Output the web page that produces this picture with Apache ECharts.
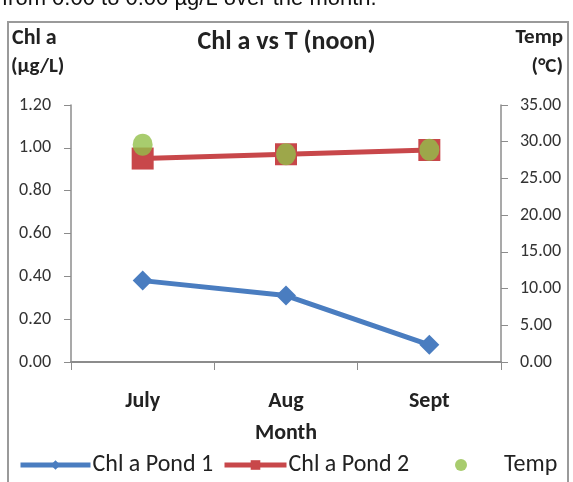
<!DOCTYPE html>
<html><head><meta charset="utf-8">
<script src="https://cdn.jsdelivr.net/npm/echarts@6/dist/echarts.min.js"></script>
<style>html,body{margin:0;padding:0;background:#fff}#c{width:573px;height:482px}</style>
</head><body><div id="c"></div>
<script>
var months = ['July', 'Aug', 'Sept'];
var chlPond1 = [0.38, 0.31, 0.08];
var chlPond2 = [0.95, 0.97, 0.99];
var temp = [29.6, 28.3, 28.9];
var leftTicks = {min: 0, max: 1.2, interval: 0.2};
var rightTicks = {min: 0, max: 35, interval: 5};

var FONT = "Carlito, 'Liberation Sans Narrow', 'Open Sans', sans-serif";
var chart = echarts.init(document.getElementById('c'), null, {renderer: 'canvas'});
chart.setOption({
  animation: false,
  backgroundColor: '#fff',
  grid: {left: 71, right: 72, top: 105, bottom: 120, containLabel: false},
  graphic: [
    {type: 'text', left: 2, top: -12, style: {text: 'from 0.00 to 0.00 \u00b5g/L over the month.', font: "22px 'Liberation Sans', Arial, sans-serif", fill: '#111'}},
    {type: 'rect', shape: {x: 8, y: 22, width: 560, height: 470}, style: {fill: 'none', stroke: '#9a9a9a', lineWidth: 2}, z: -1},
    {type: 'text', left: 12, top: 27, style: {text: 'Chl a', font: "bold 22px " + FONT, fill: '#222'}},
    {type: 'text', left: 11, top: 56, style: {text: '(\u00b5g/L)', font: "bold 21px " + FONT, fill: '#222'}},
    {type: 'text', right: 10, top: 27, style: {text: 'Temp', font: "bold 21px " + FONT, fill: '#222'}},
    {type: 'text', right: 10, top: 56, style: {text: '(\u00b0C)', font: "bold 21px " + FONT, fill: '#222'}}
  ],
  title: {
    text: 'Chl a vs T (noon)', left: 'center', top: 24,
    textStyle: {fontFamily: FONT, fontSize: 26, fontWeight: 'bold', color: '#222'}
  },
  legend: [
    {data: ['Chl a Pond 1'], left: 13, top: 448, itemWidth: 70, itemHeight: 12, itemGap: 0,
     lineStyle: {width: 5},
     textStyle: {fontFamily: FONT, fontSize: 24, color: '#222', padding: [0, 0, 0, -3]}},
    {data: ['Chl a Pond 2'], left: 217, top: 448, itemWidth: 62, itemHeight: 12, itemGap: 0,
     lineStyle: {width: 5},
     textStyle: {fontFamily: FONT, fontSize: 24, color: '#222', padding: [0, 0, 0, -3]}},
    {data: ['Temp'], left: 450, top: 448, itemWidth: 24, itemHeight: 12, itemGap: 0,
     textStyle: {fontFamily: FONT, fontSize: 24, color: '#222', padding: [0, 0, 0, 26]}}
  ],
  xAxis: {
    type: 'category', data: months, boundaryGap: true,
    name: 'Month', nameLocation: 'middle', nameGap: 60,
    nameTextStyle: {fontFamily: FONT, fontSize: 22, fontWeight: 'bold', color: '#222'},
    axisLine: {lineStyle: {color: '#8c8c8c', width: 2}},
    axisTick: {show: true, length: 8, lineStyle: {color: '#8c8c8c'}},
    axisLabel: {margin: 28, fontFamily: FONT, fontSize: 22, fontWeight: 'bold', color: '#222'}
  },
  yAxis: [
    {type: 'value', min: leftTicks.min, max: leftTicks.max, interval: leftTicks.interval, position: 'left',
     splitLine: {show: false},
     axisLine: {show: true, lineStyle: {color: '#8c8c8c', width: 1.5}},
     axisTick: {show: true, length: 7, lineStyle: {color: '#8c8c8c'}},
     axisLabel: {margin: 20, fontFamily: FONT, fontSize: 18, color: '#333', formatter: function (v) { return v.toFixed(2); }}},
    {type: 'value', min: rightTicks.min, max: rightTicks.max, interval: rightTicks.interval, position: 'right',
     splitLine: {show: false},
     axisLine: {show: true, lineStyle: {color: '#8c8c8c', width: 1.5}},
     axisTick: {show: true, length: 7, lineStyle: {color: '#8c8c8c'}},
     axisLabel: {margin: 19, fontFamily: FONT, fontSize: 18, color: '#333', formatter: function (v) { return v.toFixed(2); }}}
  ],
  series: [
    {name: 'Chl a Pond 1', type: 'line', data: chlPond1, yAxisIndex: 0,
     symbol: 'diamond', symbolSize: 20, color: '#4a7dc0',
     lineStyle: {width: 5, color: '#4a7dc0'}, itemStyle: {color: '#4a7dc0'}, z: 2},
    {name: 'Chl a Pond 2', type: 'line', data: chlPond2, yAxisIndex: 0,
     symbol: 'rect', symbolSize: 22, color: '#c8474a',
     lineStyle: {width: 5, color: '#c8474a'}, itemStyle: {color: '#c8474a'}, z: 3},
    {name: 'Temp', type: 'scatter', data: temp, yAxisIndex: 1,
     symbol: 'circle', symbolSize: [20, 22], color: '#92bf4a',
     itemStyle: {color: '#92bf4a'}, z: 4}
  ]
});
</script></body></html>
